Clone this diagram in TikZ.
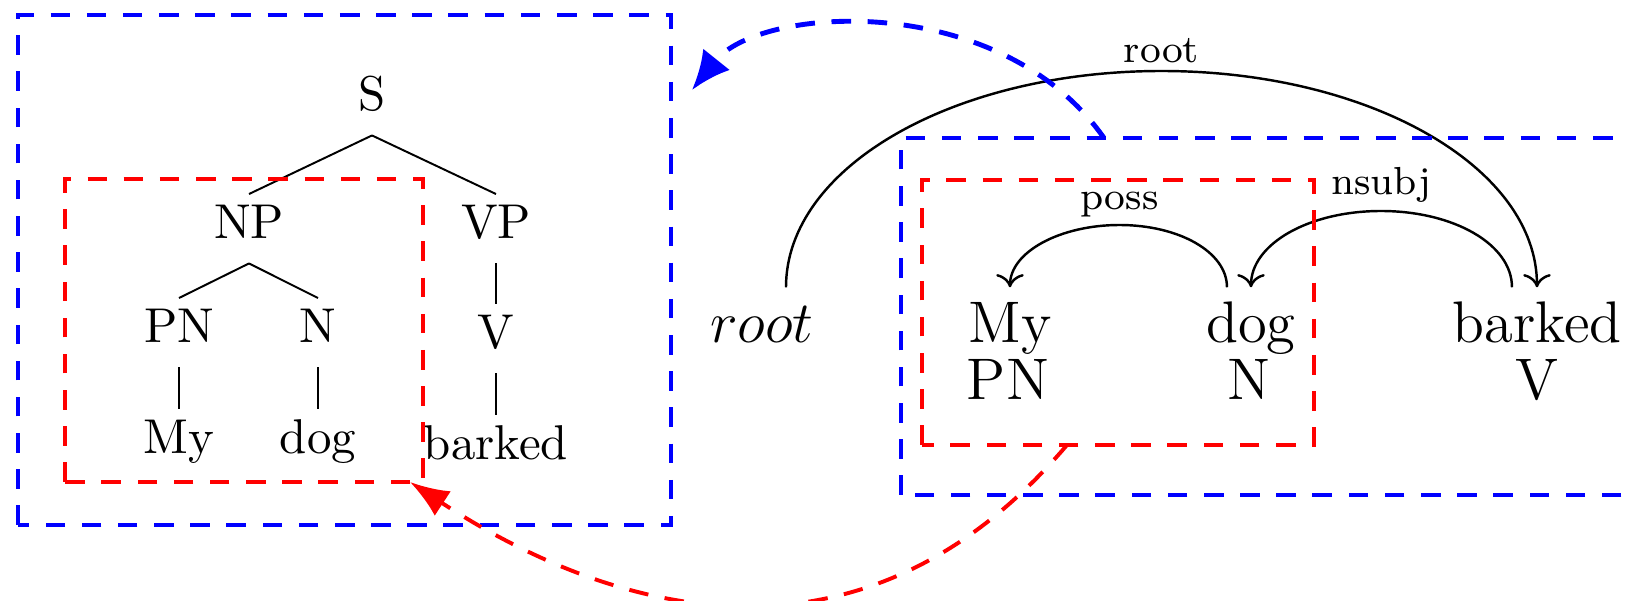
\documentclass[tikz,border=0pt]{standalone}
\usepackage{amsmath}
\usepackage{amssymb}
\usepackage{tikz}
\usepackage{xcolor}
\usetikzlibrary{arrows.meta}

\begin{document}
\begin{tikzpicture}[x=0.719cm,y=0.719cm,
  cat/.style={anchor=base,inner sep=2pt,text height=7pt,text depth=2.8pt},
  word/.style={anchor=base,font=\large,inner sep=2.5pt,text height=8.7pt,text depth=2.6pt},
  tag/.style={anchor=base,font=\large},
  deparc/.style={->,line width=0.5pt},
  lbl/.style={font=\footnotesize,inner sep=1.5pt},
  bluebox/.style={blue,line width=1pt,dash pattern=on 4pt off 3.4pt},
  redbox/.style={red,line width=0.8pt,dash pattern=on 4pt off 3.4pt}]
\useasboundingbox (0,0) rectangle (16.29,6.01);
\clip (0,0) rectangle (16.29,6.01);

% phrase structure tree
\node[cat] (s) at (3.72,4.90) {S};
\node[cat] (np) at (2.49,3.62) {NP};
\node[cat] (vp) at (4.96,3.62) {VP};
\node[cat] (pn) at (1.79,2.58) {PN};
\node[cat] (n) at (3.18,2.58) {N};
\node[cat] (v) at (4.96,2.52) {V};
\node[cat] (tmy) at (1.79,1.47) {My};
\node[cat] (tdog) at (3.18,1.47) {dog};
\node[cat] (tbarked) at (4.96,1.41) {barked};
\draw (s.south)--(np.north);
\draw (s.south)--(vp.north);
\draw (np.south)--(pn.north);
\draw (np.south)--(n.north);
\draw (vp.south)--(v.north);
\draw (pn.south)--(tmy.north);
\draw (n.south)--(tdog.north);
\draw (v.south)--(tbarked.north);

% dependency graph
\node[word] (root) at (7.62,2.58) {$root$};
\node[word] (dmy) at (10.10,2.58) {My};
\node[word] (ddog) at (12.51,2.58) {dog};
\node[word] (dbarked) at (15.37,2.58) {barked};
\node[tag] (dpn) at (10.08,2.01) {PN};
\node[tag] (dn) at (12.49,2.01) {N};
\node[tag] (dv) at (15.37,2.01) {V};
% arc tops (half ellipses)
\coordinate (roottop) at (11.615,5.30);
\coordinate (posstop) at (11.195,3.76);
\coordinate (nsubjtop) at (13.81,3.90);
\draw[deparc] ([shift={(0.24,0)}]root.north) .. controls +(0,1.204) and +(-2.074,0) .. (roottop)
  .. controls +(2.074,0) and +(0,1.204) .. (dbarked.north);
\draw[deparc] ([shift={(-0.24,0)}]ddog.north) .. controls +(0,0.353) and +(0.594,0) .. (posstop)
  .. controls +(-0.594,0) and +(0,0.353) .. (dmy.north);
\draw[deparc] ([shift={(-0.25,0)}]dbarked.north) .. controls +(0,0.431) and +(0.724,0) .. (nsubjtop)
  .. controls +(-0.724,0) and +(0,0.431) .. (ddog.north);
\node[lbl,above] at (roottop) {root};
\node[lbl,above] at (posstop) {poss};
\node[lbl,above] at (nsubjtop) {nsubj};

% boxes
\draw[bluebox] (0.18,0.76) rectangle (6.71,5.86);
\draw[redbox] (0.65,1.19) rectangle (4.23,4.22);
\draw[bluebox] (9.01,1.06) rectangle (17.0,4.63);
\draw[redbox] (9.22,1.56) rectangle (13.14,4.21);

% correspondences
\coordinate (depblue) at (11.04,4.63);
\coordinate (treeblue) at (6.92,5.11);
\coordinate (depred) at (10.67,1.56);
\coordinate (treered) at (4.10,1.19);
\draw[bluebox,-{Latex[length=8pt,width=7pt]}] (depblue) .. controls (10.00,6.11) and (7.60,5.96) .. (treeblue);
\draw[redbox,-{Latex[length=8pt,width=6pt]}] (depred) .. controls (8.50,-0.99) and (5.90,0.01) .. (treered);
\end{tikzpicture}
\end{document}
